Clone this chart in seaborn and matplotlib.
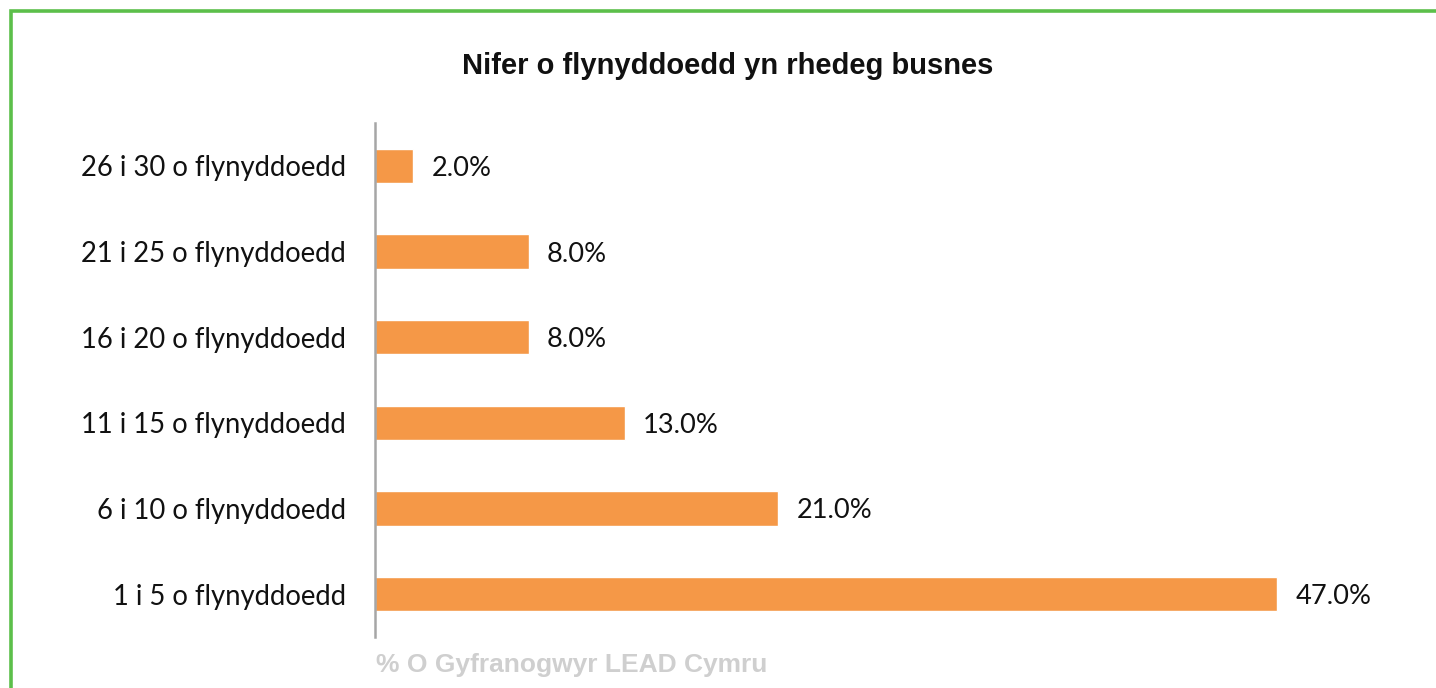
import matplotlib
matplotlib.use("Agg")
import matplotlib.pyplot as plt
import seaborn as sns
import pandas as pd
from matplotlib.patches import Rectangle

categories = [
    "26 i 30 o flynyddoedd",
    "21 i 25 o flynyddoedd",
    "16 i 20 o flynyddoedd",
    "11 i 15 o flynyddoedd",
    "6 i 10 o flynyddoedd",
    "1 i 5 o flynyddoedd",
]
values = [2.0, 8.0, 8.0, 13.0, 21.0, 47.0]
title = "Nifer o flynyddoedd yn rhedeg busnes"
xlabel = "% O Gyfranogwyr LEAD Cymru"

df = pd.DataFrame({"cat": categories, "val": values})

sns.set_theme(style="white")
plt.rcParams["font.family"] = ["Lato", "DejaVu Sans"]

fig = plt.figure(figsize=(14.36, 6.88), dpi=100)
ax = fig.add_axes([375 / 1436, 1 - 637 / 688, (1335 - 375) / 1436, (637 - 123) / 688])

sns.barplot(data=df, x="val", y="cat", color="#f59847", saturation=1,
            width=0.4, ax=ax, orient="h")

ax.set_xlim(0, 50)
ax.set_ylim(5.5, -0.5)
for s in ["top", "right", "bottom"]:
    ax.spines[s].set_visible(False)
ax.spines["left"].set_color("#a6a6a6")
ax.spines["left"].set_linewidth(1.8)
ax.set_xticks([])
ax.set_ylabel("")
ax.set_xlabel("")
ax.tick_params(axis="y", length=0, pad=21, labelsize=19.8, labelcolor="#111111")
for lbl in ax.get_yticklabels():
    lbl.set_verticalalignment("center_baseline")

for i, v in enumerate(values):
    ax.text(v + 0.95, i, f"{v:.1f}%", va="center_baseline", ha="left",
            fontsize=19.6, color="#111111")

fig.text(728 / 1436, 1 - 66 / 688, title, ha="center", va="center",
         fontsize=21, fontweight="bold", family="Liberation Sans", color="#111111")
fig.text(376 / 1436, 1 - 665 / 688, xlabel, ha="left", va="center",
         fontsize=19, fontweight="bold", family="Liberation Sans", color="#cfcfcf")

# frame around the panel (continues past the right and bottom edges)
fig.patches.append(Rectangle((11 / 1436, -0.05), 1.1, 1 - 11 / 688 + 0.05,
                             transform=fig.transFigure, fill=False,
                             edgecolor="#5cbf4a", linewidth=2.6))

fig.savefig("out.png", dpi=100)
